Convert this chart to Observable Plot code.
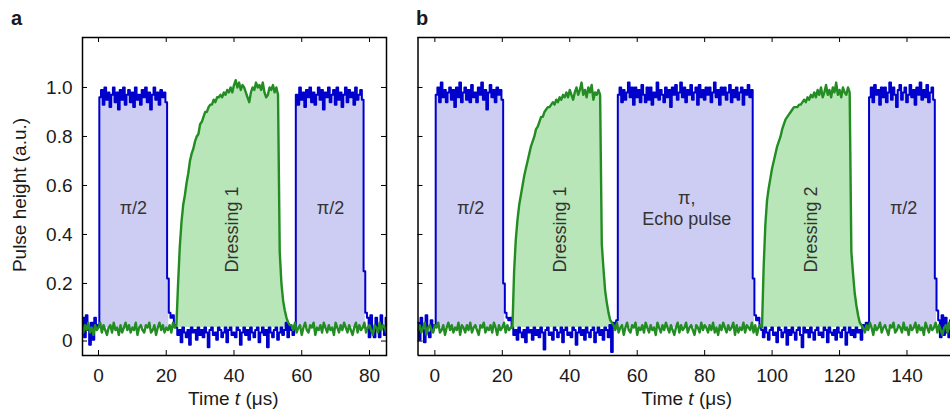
<!DOCTYPE html>
<html><head><meta charset="utf-8">
<script src="https://cdn.jsdelivr.net/npm/d3@7"></script>
<script src="https://cdn.jsdelivr.net/npm/@observablehq/plot@0.6"></script>
<style>
html,body{margin:0;padding:0;background:#fff;overflow:hidden;}
#wrap{position:relative;width:950px;height:411px;overflow:hidden;font-family:'Liberation Sans',Arial,sans-serif;color:#1a1a1a;}
#pa,#pb{position:absolute;top:0;}
#pa{left:0;} #pb{left:400px;}
.panel{position:absolute;font-weight:bold;font-size:20px;line-height:20px;top:7.6px;}
.xt{position:absolute;font-size:19px;line-height:19px;top:389px;transform:translateX(-50%);white-space:nowrap;}
.yt{position:absolute;font-size:19px;line-height:19px;left:18.9px;top:195px;transform:translate(-50%,-50%) rotate(-90deg);white-space:nowrap;}
</style></head><body>
<div id="wrap">
<div id="pa"></div><div id="pb"></div>
<div class="panel" style="left:11px">a</div>
<div class="panel" style="left:416px">b</div>
<div class="yt">Pulse height (a.u.)</div>
<div class="xt" style="left:233.3px">Time <i>t</i> (μs)</div>
<div class="xt" style="left:686.8px">Time <i>t</i> (μs)</div>
</div>
<script>
// ---------- axes / ticks ----------
const yDomain = [-0.094, 1.204];
const yTicks = [-0.035, 0.2, 0.4, 0.6, 0.8, 1.0];
const yTickLabels = ["0", "0.2", "0.4", "0.6", "0.8", "1.0"];
const aXDomain = [-4.72, 85.02];
const bXDomain = [-5.0, 152.9];
const aXTicks = [0, 20, 40, 60, 80];
const bXTicks = [0, 20, 40, 60, 80, 100, 120, 140];

// ---------- traces: sampled every DT µs, values in units of 0.01 a.u. ----------
const DT = 0.5;
const fillBase = 0.02;

// Panel a – pulse (blue) trace segments and their start times (µs)
const aBlueStarts = [-5, 0.5, 20.5, 23, 58.5, 78.5];
const aBluePre = [3,6,-2,7,1,-5,4,-3,6,2,3];
const aBlueP1 = [96,99,93,100,95,98,92,97,100,94, 98,91,99,95,100,93,97,99,94,98,
  92,100,95,97,93,99,96,100,94,98, 91,97,100,95,98,93,99,96,98,94];
const aBlueFall1 = [22,8,6,7,3];
const aBlueLow1 = [2,-1,1,-4,2,0,-2,1,-5,2, 0,1,-3,2,-1,1,-2,2,0,-6, 1,2,-1,0,-3,2,1,-2,0,2,
  -4,1,2,-1,0,-2,2,1,-5,0, 2,-1,1,-3,2,0,-2,1,2,-4, 0,2,-1,1,-6,2,0,-2,1,2, -3,0,2,-1,1,4,-2,3,1,-1, 2];
const aBlueP2 = [97,93,100,95,98,92,99,96,100,94, 98,93,97,100,95,99,91,98,96,100,
  94,97,99,93,100,95,98,92,97,100, 94,99,96,98,93,100,95,97,99,95];
const aBluePost = [25,8,6,-2,7,0,-2,6,1,-2,7,2,-1,6];

// Panel a – dressing (green) trace segments
const aGreenStarts = [-5, 23.5, 53.5, 57];
const aGreenBase1 = [2,0,3,1,4,0,2,-1,3,1, 2,4,0,3,1,-1,2,3,0,4, 1,2,-1,3,0,2,4,1,3,0,
  2,1,4,-1,2,3,1,0,3,2, 4,0,1,3,-1,2,4,1,3,0, 2,1,3,0,4,2,3];
const aGreenD1 = [20,35,45,52,56,61,65,70,73,75, 78,80,81,85,86,88,90,90,92,93,
  93,95,94,96,96,97,96,98,97,99, 98,100,98,101,103,100,102,99,101,100,
  98,96,94,98,100,99,102,100,101,99, 102,98,96,97,100,99,101,98,100,97];
const aGreenFall1 = [33,20,13,9,6,4,3];
const aGreenBase2 = [3,1,4,0,2,3,-1,2,4,1, 0,3,2,4,-1,2,1,3,0,4, 2,0,3,1,2,-1,4,2,0,3,
  1,4,2,0,3,1,-1,2,4,0, 3,1,2,4,0,2,3,1,-1,3, 2,0,4,1,3,2,0];

// Panel b – pulse (blue) trace segments
const bBlueStarts = [-5, 0.5, 20.5, 23, 54.5, 94.5, 97, 129, 148.5];
const bBluePre = [4,-3,6,1,-4,7,0,-2,5,1,3];
const bBlueP1 = [97,100,94,102,96,99,94,98,100,95, 99,92,100,96,102,94,98,100,95,99,
  94,101,96,98,94,100,97,102,95,99, 91,98,101,96,99,94,100,97,99,95];
const bBlueFall1 = [20,8,6,5,6];
const bBlueLow1 = [2,-1,1,-3,2,0,-2,1,-4,2, 0,1,-3,2,-1,1,-2,2,0,-7, 1,2,-1,0,-3,2,1,-2,0,2,
  -4,1,2,-1,0,-2,2,1,-5,0, 2,-1,1,-3,2,0,-2,1,2,-4, 0,2,-1,1,-3,2,1,-2,3,-8, 4,2,5];
const bBlueP2 = [97,100,94,99,95,98,102,96,100,93, 100,96,99,94,101,97,94,100,95,100,
  93,98,96,102,95,99,97,94,100,96, 99,92,100,97,101,95,98,102,96,100,
  94,99,97,101,95,98,100,93,101,96, 99,95,100,97,100,94,98,102,96,99,
  93,100,97,100,95,98,101,94,99,96, 100,95,98,100,93,99,97,101,96,99];
const bBlueFall2 = [22,7,5,6,2];
const bBlueLow2 = [1,-2,2,0,-3,1,2,-1,0,-4, 2,1,-2,0,2,-5,1,-1,2,0, -3,1,2,-1,-6,2,0,1,-2,2,
  0,-3,1,2,-1,0,-2,2,1,-4, 2,0,-1,1,-3,2,0,-2,1,2, -5,0,2,-1,1,-2,2,0,1,-3, 3,1,4,2];
const bBlueP3 = [96,100,94,101,97,99,93,100,96,100, 94,98,102,95,100,97,92,99,101,95,
  98,100,94,97,101,96,99,93,100,97, 102,95,99,96,101,94,98,100,95];
const bBluePost = [22,9,5,-2,7,-1,6,0,-2,5];

// Panel b – dressing (green) trace segments
const bGreenStarts = [-5, 23.5, 49.5, 53, 97.5, 123.5, 127];
const bGreenBase1 = [1,3,0,2,4,-1,2,3,1,0, 3,2,4,0,1,3,-1,2,4,1, 3,0,2,1,4,-1,3,2,0,3,
  1,4,0,2,3,1,-1,3,2,4, 0,2,1,3,0,4,2,-1,3,1, 2,4,0,3,1,2,2];
const bGreenD1 = [25,38,46,52,56,60,64,67,70,73, 76,78,80,83,84,86,88,88,90,91,
  92,92,93,94,93,95,94,96,95,97, 96,98,96,99,97,95,98,100,97,99,
  102,97,99,96,100,98,101,95,98,97, 99,97];
const bGreenFall1 = [36,26,17,12,8,5,4];
const bGreenBase2 = [3,1,4,0,2,3,-1,2,4,1, 0,3,2,4,-1,2,1,3,0,4, 2,0,3,1,2,-1,4,2,0,3,
  1,4,2,0,3,1,-1,2,4,0, 3,1,2,4,0,2,3,1,-1,3, 2,0,4,1,3,2,0,3,1,4,
  0,2,-1,3,1,4,2,0,3,1, 2,4,-1,3,0,2,1,4,0,3, 2,1,4,0,3,-1,2,3,2];
const bGreenD2 = [27,44,54,59,63,67,70,73,76,78, 80,83,85,87,88,89,90,91,92,92,
  92,93,93,94,95,94,96,95,97,96, 98,96,99,97,100,96,98,101,97,99,
  96,100,98,102,97,99,96,100,98,97, 100,98];
const bGreenFall2 = [33,24,16,11,7,4,3];
const bGreenBase3 = [2,0,3,1,4,2,-1,3,1,2, 4,0,2,3,1,-1,3,2,4,0, 1,3,2,0,4,1,2,-1,3,1,
  2,4,0,3,1,2,-1,4,2,0, 3,1,2,4,0,3,1,-1,2,3, 0,4,1];

// ---------- annotations (data coordinates) ----------
const aLabels = [{t: 10.3, v: 0.507, text: "π/2"}, {t: 68.5, v: 0.507, text: "π/2"}];
const aRotLabels = [{t: 39.6, v: 0.42, text: "Dressing 1"}];
const bLabels = [{t: 10.6, v: 0.507, text: "π/2"}, {t: 74.7, v: 0.548, text: "π,"},
  {t: 74.7, v: 0.461, text: "Echo pulse"}, {t: 139.0, v: 0.507, text: "π/2"}];
const bRotLabels = [{t: 37.2, v: 0.42, text: "Dressing 1"}, {t: 111.6, v: 0.42, text: "Dressing 2"}];

function trace(starts, segs) {
  const out = [];
  segs.forEach((vals, k) => vals.forEach((v, i) => out.push({t: starts[k] + i * DT, v: v / 100})));
  return out;
}

const aBlue = trace(aBlueStarts, [aBluePre, aBlueP1, aBlueFall1, aBlueLow1, aBlueP2, aBluePost]);
const aGreen = trace(aGreenStarts, [aGreenBase1, aGreenD1, aGreenFall1, aGreenBase2]);
const bBlue = trace(bBlueStarts, [bBluePre, bBlueP1, bBlueFall1, bBlueLow1, bBlueP2, bBlueFall2, bBlueLow2, bBlueP3, bBluePost]);
const bGreen = trace(bGreenStarts, [bGreenBase1, bGreenD1, bGreenFall1, bGreenBase2, bGreenD2, bGreenFall2, bGreenBase3]);

const BLUE = "#0000cc", LAV = "#cdcdf3", GREEN = "#238c23", LGREEN = "#b8e6b8";
const H = 411, MT = 37, MB = 56;

function panel(o) {
  const ph = H - MT - MB;
  const pw = o.width - o.marginLeft - o.marginRight;
  const marks = [
    Plot.areaY(o.blue, {x: "t", y1: fillBase, y2: d => (d.v > 0.1 ? d.v : fillBase), curve: "step", fill: LAV, clip: true}),
    Plot.areaY(o.green, {x: "t", y1: fillBase, y2: d => Math.max(d.v, fillBase), fill: LGREEN, clip: true}),
    Plot.line(o.blue, {x: "t", y: "v", curve: "step", stroke: BLUE, strokeWidth: 2, clip: true}),
    Plot.line(o.green, {x: "t", y: "v", stroke: GREEN, strokeWidth: 2.4, clip: true}),
    Plot.text(o.labels, {x: "t", y: "v", text: "text", fontSize: 18, fill: "#333"}),
    Plot.text(o.rotLabels, {x: "t", y: "v", text: "text", rotate: -90, fontSize: 18, fill: "#333"}),
    Plot.tickX(o.xTicks, {x: d => d, insetTop: ph - 5, stroke: "#000", strokeWidth: 1}),
    Plot.tickX(o.xTicks, {x: d => d, insetBottom: ph - 5, stroke: "#000", strokeWidth: 1}),
    Plot.tickY(yTicks, {y: d => d, insetRight: pw - 5, stroke: "#000", strokeWidth: 1}),
    Plot.axisX({ticks: o.xTicks, tickSize: 0, tickPadding: 13, label: null, fontSize: 19})
  ];
  if (o.yLabels) {
    marks.push(Plot.tickY(yTicks, {y: d => d, insetLeft: pw - 5, stroke: "#000", strokeWidth: 1}));
    marks.push(Plot.axisY({ticks: yTicks, tickFormat: d => yTickLabels[yTicks.indexOf(d)], tickSize: 0, tickPadding: 10, label: null, fontSize: 19}));
    marks.push(Plot.frame({stroke: "#000", strokeWidth: 1.5}));
  } else {
    marks.push(Plot.ruleX([o.xDomain[0]], {stroke: "#000", strokeWidth: 1.5}));
    marks.push(Plot.ruleY([yDomain[0], yDomain[1]], {stroke: "#000", strokeWidth: 1.5}));
  }
  return Plot.plot({
    width: o.width, height: H,
    marginLeft: o.marginLeft, marginRight: o.marginRight, marginTop: MT, marginBottom: MB,
    x: {domain: o.xDomain},
    y: o.yLabels ? {domain: yDomain} : {domain: yDomain, axis: null},
    style: {fontFamily: "'Liberation Sans', Arial, sans-serif", fontSize: "19px", color: "#1a1a1a", background: "transparent", overflow: "visible"},
    marks
  });
}

document.getElementById("pa").append(panel({blue: aBlue, green: aGreen, xDomain: aXDomain, xTicks: aXTicks,
  labels: aLabels, rotLabels: aRotLabels, width: 400, marginLeft: 82, marginRight: 14, yLabels: true}));
document.getElementById("pb").append(panel({blue: bBlue, green: bGreen, xDomain: bXDomain, xTicks: bXTicks,
  labels: bLabels, rotLabels: bRotLabels, width: 550, marginLeft: 17.5, marginRight: 0, yLabels: false}));
</script>
</body></html>
